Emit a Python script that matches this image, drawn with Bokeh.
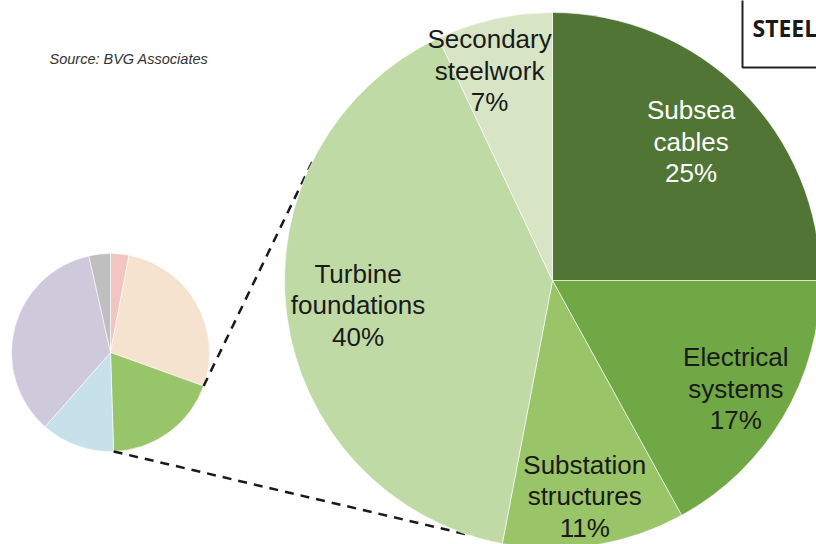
import math
from bokeh.plotting import figure
from bokeh.models import Range1d, ColumnDataSource
from bokeh.embed import file_html
from bokeh.resources import INLINE
from bokeh.core.properties import value

# ---------------- data ----------------
detail_labels = ["Subsea\ncables", "Electrical\nsystems", "Substation\nstructures",
                 "Turbine\nfoundations", "Secondary\nsteelwork"]
detail_shares = [25, 17, 11, 40, 7]
overview_shares = [3, 27.5, 19, 12, 35, 3.5]
highlight_index = 2
source_text = "Source: BVG Associates"
box_title = "STEEL"

# ---------------- styles / layout ----------------
detail_colors = ["#507535", "#70a845", "#99c468", "#c0daa5", "#d7e5c5"]
detail_text_colors = ["#ffffff", "#1a1a1a", "#1a1a1a", "#1a1a1a", "#1a1a1a"]
detail_label_radius = [196, 213, 218, 196, 219]
detail_label_shift_deg = [0, 0, 0.5, 0, -4.1]
overview_colors = ["#f2c5c1", "#f5e3cf", "#99c56a", "#c7e1ea", "#cfc9dc", "#bfbfbf"]

W, H = 816, 544
def Y(py):  # reference pixel row -> data y
    return H - py

small_c = (110, Y(352)); small_r = 99
big_c = (552, Y(280)); big_r = 268
upper_target_deg = 296.6
lower_target_deg = 198.7


def wedge_angles(shares):
    tot = float(sum(shares))
    starts, ends, mids = [], [], []
    cum = 0.0
    for s in shares:
        a1 = cum / tot * 360.0
        a2 = (cum + s) / tot * 360.0
        starts.append(math.radians(90 - a2))
        ends.append(math.radians(90 - a1))
        mids.append((a1 + a2) / 2.0)
        cum += s
    return starts, ends, mids


def on_circle(c, r, deg):
    return (c[0] + r * math.sin(math.radians(deg)), c[1] + r * math.cos(math.radians(deg)))


p = figure(width=W, height=H, x_range=Range1d(0, W), y_range=Range1d(0, H),
           output_backend="svg", toolbar_location=None, min_border=0)
p.axis.visible = False
p.grid.visible = False
p.outline_line_color = None
p.background_fill_color = "white"
p.border_fill_color = "white"

# small overview pie
s_start, s_end, s_mid = wedge_angles(overview_shares)
src_small = ColumnDataSource(dict(start=s_start, end=s_end, color=overview_colors))
p.wedge(x=small_c[0], y=small_c[1], radius=small_r, start_angle="start", end_angle="end",
        fill_color="color", line_color="white", line_width=0.6, source=src_small)

# connector lines from highlighted slice edges to the detail pie
tot = float(sum(overview_shares))
a_hi1 = sum(overview_shares[:highlight_index]) / tot * 360.0
a_hi2 = sum(overview_shares[:highlight_index + 1]) / tot * 360.0
p0 = on_circle(small_c, small_r, a_hi1)
p1 = on_circle(big_c, big_r, upper_target_deg)
q0 = on_circle(small_c, small_r, a_hi2)
q1 = on_circle(big_c, big_r, lower_target_deg)
p.multi_line(xs=[[p0[0], p1[0]], [q0[0], q1[0]]], ys=[[p0[1], p1[1]], [q0[1], q1[1]]],
             line_color="#1a1a1a", line_width=2.5, line_dash="9 7")

# big detail pie
b_start, b_end, b_mid = wedge_angles(detail_shares)
src_big = ColumnDataSource(dict(start=b_start, end=b_end, color=detail_colors))
p.wedge(x=big_c[0], y=big_c[1], radius=big_r, start_angle="start", end_angle="end",
        fill_color="color", line_color="white", line_width=0.6, source=src_big)

# labels
lx, ly, lt = [], [], []
for lab, sh, mid, rr, sd in zip(detail_labels, detail_shares, b_mid,
                                detail_label_radius, detail_label_shift_deg):
    x, y = on_circle(big_c, rr, mid + sd)
    lx.append(x); ly.append(y); lt.append("%s\n%d%%" % (lab, sh))
src_lab = ColumnDataSource(dict(x=lx, y=ly, text=lt, color=detail_text_colors))
p.text(x="x", y="y", text="text", text_color="color", source=src_lab,
       text_font=value("Liberation Sans"), text_font_size="26px",
       text_align="center", text_baseline="middle", text_line_height=1.05)

# source note
p.text(x=[49], y=[Y(58)], text=[source_text], text_font=value("Liberation Sans"),
       text_font_size="14.5px", text_font_style="italic", text_color="#333333",
       text_align="left", text_baseline="middle")

# top-right box
p.line(x=[742, 742, 900], y=[Y(-20), Y(67), Y(67)], line_color="#222222", line_width=2)
p.text(x=[752], y=[Y(27)], text=[box_title], text_font=value("Open Sans"),
       text_font_size="23px", text_font_style="bold", text_color="#1a1a1a",
       text_align="left", text_baseline="alphabetic")

open("out.html", "w").write(file_html(p, INLINE))
